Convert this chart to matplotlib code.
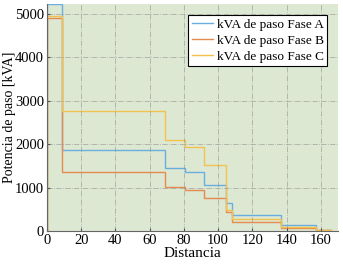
import matplotlib.pyplot as plt

# Step edges (distance) and kVA values per phase
edges = [0, 8.5, 69, 80.5, 92, 104.5, 108.3, 136.5, 157, 166]
fase_a = [5230, 1870, 1448, 1355, 1070, 650, 370, 150, 30]
fase_b = [4910, 1355, 1010, 950, 755, 447, 200, 70, 15]
fase_c = [4950, 2755, 2100, 1947, 1524, 485, 277, 100, 20]

labels = ['kVA de paso Fase A', 'kVA de paso Fase B', 'kVA de paso Fase C']
colors = ['#6aaee0', '#e58a50', '#f2c14e']

plt.rcParams['font.family'] = ['Liberation Serif', 'DejaVu Serif']

fig = plt.figure(figsize=(3.43, 2.68), dpi=100)
ax = fig.add_axes([0.137, 0.138, 0.848, 0.847])
ax.set_facecolor('#dde8d3')

for vals, lab, col in zip([fase_a, fase_b, fase_c], labels, colors):
    ax.stairs(vals, edges, baseline=0, color=col, linewidth=1.0, label=lab)

ax.set_xlim(0, 170)
ax.set_ylim(0, 5230)
ax.set_xticks(range(0, 161, 20))
ax.set_yticks(range(0, 5001, 1000))
ax.tick_params(labelsize=10.5, length=2, direction='in', color='#555555', pad=2)
ax.grid(True, linestyle='-.', color='#888888', linewidth=0.6, alpha=0.6)

for s in ['top', 'right']:
    ax.spines[s].set_visible(False)
for s in ['left', 'bottom']:
    ax.spines[s].set_color('#666666')

ax.set_xlabel('Distancia', fontsize=11, labelpad=0)
ax.set_ylabel('Potencia de paso [kVA]', fontsize=10)
ax.yaxis.set_label_coords(-0.105, 0.5)

leg = ax.legend(loc='upper right', fontsize=9.5, handlelength=1.6, handletextpad=0.3,
                borderpad=0.25, labelspacing=0.3, fancybox=False, framealpha=1,
                bbox_to_anchor=(0.985, 0.98))
leg.get_frame().set_edgecolor('black')
leg.get_frame().set_linewidth(0.8)

fig.savefig('out.png', dpi=100)
